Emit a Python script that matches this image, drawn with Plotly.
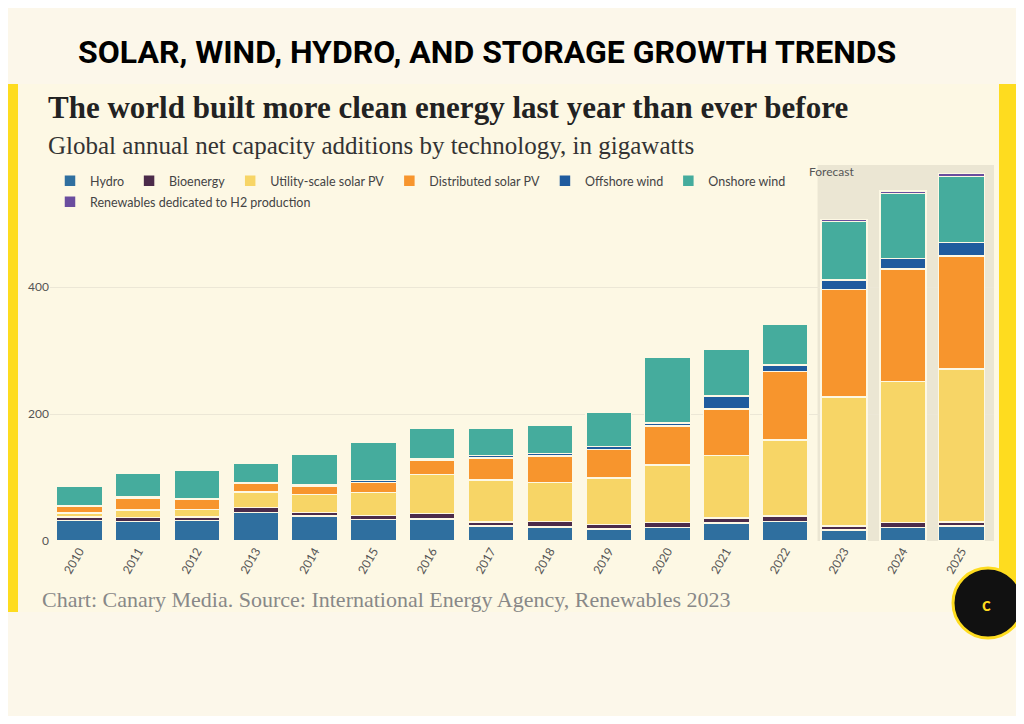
import plotly.graph_objects as go

years = [str(y) for y in range(2010, 2026)]
hydro = [32, 31, 32, 45, 39, 34, 35, 24, 22, 19, 21, 28, 31, 17, 21, 24]
bio = [6, 6, 6, 8, 6, 6, 8, 6, 9, 7, 8, 8, 8, 7, 8, 6]
util = [6, 12, 12, 24, 28, 36, 62, 66, 61, 73, 91, 99, 120, 203, 222, 241]
dist = [10, 19, 16, 14, 14, 16, 22, 35, 42, 45, 61, 73, 108, 169, 177, 178]
offshore = [1, 1, 1, 1, 1, 3, 2, 4, 4, 5, 5, 20, 10, 15, 17, 21]
onshore = [31, 38, 45, 30, 48, 61, 48, 42, 44, 54, 103, 74, 64, 92, 102, 104]
h2 = [0, 0, 0, 0, 0, 0, 0, 0, 0, 0, 0, 0, 0, 3, 4, 5]

series = [
    ("Hydro", hydro, "#2f6f9f"),
    ("Bioenergy", bio, "#4b2b4a"),
    ("Utility-scale solar PV", util, "#f7d566"),
    ("Distributed solar PV", dist, "#f7952d"),
    ("Offshore wind", offshore, "#1f5b9e"),
    ("Onshore wind", onshore, "#45ac9d"),
    ("Renewables dedicated to H2 production", h2, "#6a4d9e"),
]

fig = go.Figure()
for i, (name, vals, col) in enumerate(series):
    fig.add_trace(go.Bar(x=years, y=vals, name=name, legend="legend2" if i == 6 else "legend",
                         marker=dict(color=col, line=dict(color="#fdf8e4", width=1.5))))

OFF = 8  # page body margin
W, H = 1008, 708
L, R, T, B = 42, 22, 157, 175
pw, ph = W - L - R, H - T - B
def fx(px): return (px - OFF - L) / pw
def fy(py): return (H - B - (py - OFF)) / ph

shapes = [
    dict(type="rect", xref="paper", yref="paper", x0=fx(0), x1=fx(1024), y0=fy(612), y1=fy(84),
         fillcolor="#fdf8e4", line_width=0, layer="below"),
    dict(type="rect", xref="paper", yref="paper", x0=fx(0), x1=fx(18), y0=fy(612), y1=fy(84),
         fillcolor="#fedc1f", line_width=0, layer="below"),
    dict(type="rect", xref="paper", yref="paper", x0=fx(999), x1=fx(1024), y0=fy(612), y1=fy(84),
         fillcolor="#fedc1f", line_width=0, layer="below"),
    dict(type="rect", xref="x", yref="paper", x0=12.55, x1=15.55, y0=0, y1=fy(165),
         fillcolor="#ebe6d3", line_width=0, layer="below"),
    dict(type="circle", xref="paper", yref="paper", x0=fx(953), x1=fx(1023), y0=fy(638), y1=fy(568),
         fillcolor="#111111", line=dict(color="#fedc1f", width=3)),
]

ann = [
    dict(text="<b>SOLAR, WIND, HYDRO, AND STORAGE GROWTH TRENDS</b>", x=fx(76), y=fy(52),
         font=dict(family="Roboto, Arial", size=32, color="#000")),
    dict(text="<b>The world built more clean energy last year than ever before</b>", x=fx(46), y=fy(108),
         font=dict(family="Liberation Serif", size=31, color="#222")),
    dict(text="Global annual net capacity additions by technology, in gigawatts", x=fx(46), y=fy(145),
         font=dict(family="Liberation Serif", size=25, color="#333")),
    dict(text="Chart: Canary Media. Source: International Energy Agency, Renewables 2023", x=fx(40), y=fy(599),
         font=dict(family="Liberation Serif", size=22, color="#888")),
    dict(text="Forecast", x=fx(807), y=fy(172), font=dict(family="Lato", size=12, color="#555")),
    dict(text="<b>c</b>", x=fx(980), y=fy(604), font=dict(family="Lato", size=18, color="#fedc1f")),
]
for a in ann:
    a.update(xref="paper", yref="paper", xanchor="left", yanchor="middle", showarrow=False)

leg = dict(orientation="h", x=0, xanchor="left", yanchor="middle",
           font=dict(family="Lato", size=12.5, color="#444"), bgcolor="rgba(0,0,0,0)",
           traceorder="normal", itemwidth=30)
fig.update_layout(
    width=W, height=H, barmode="stack", bargap=0.22,
    margin=dict(l=L, r=R, t=T, b=B),
    paper_bgcolor="#fcf7ea", plot_bgcolor="rgba(0,0,0,0)",
    shapes=shapes, annotations=ann,
    legend=dict(leg, y=fy(181)),
    legend2=dict(leg, y=fy(202)),
    xaxis=dict(tickangle=-60, tickfont=dict(family="Lato", size=12, color="#555"), showgrid=False),
    yaxis=dict(range=[0, (H - B - T) / 0.635], tickvals=[0, 200, 400], gridcolor="#ece7d6",
               tickfont=dict(family="Lato", size=12, color="#555"), zeroline=False),
    showlegend=True,
)
fig.write_html("out.html")
